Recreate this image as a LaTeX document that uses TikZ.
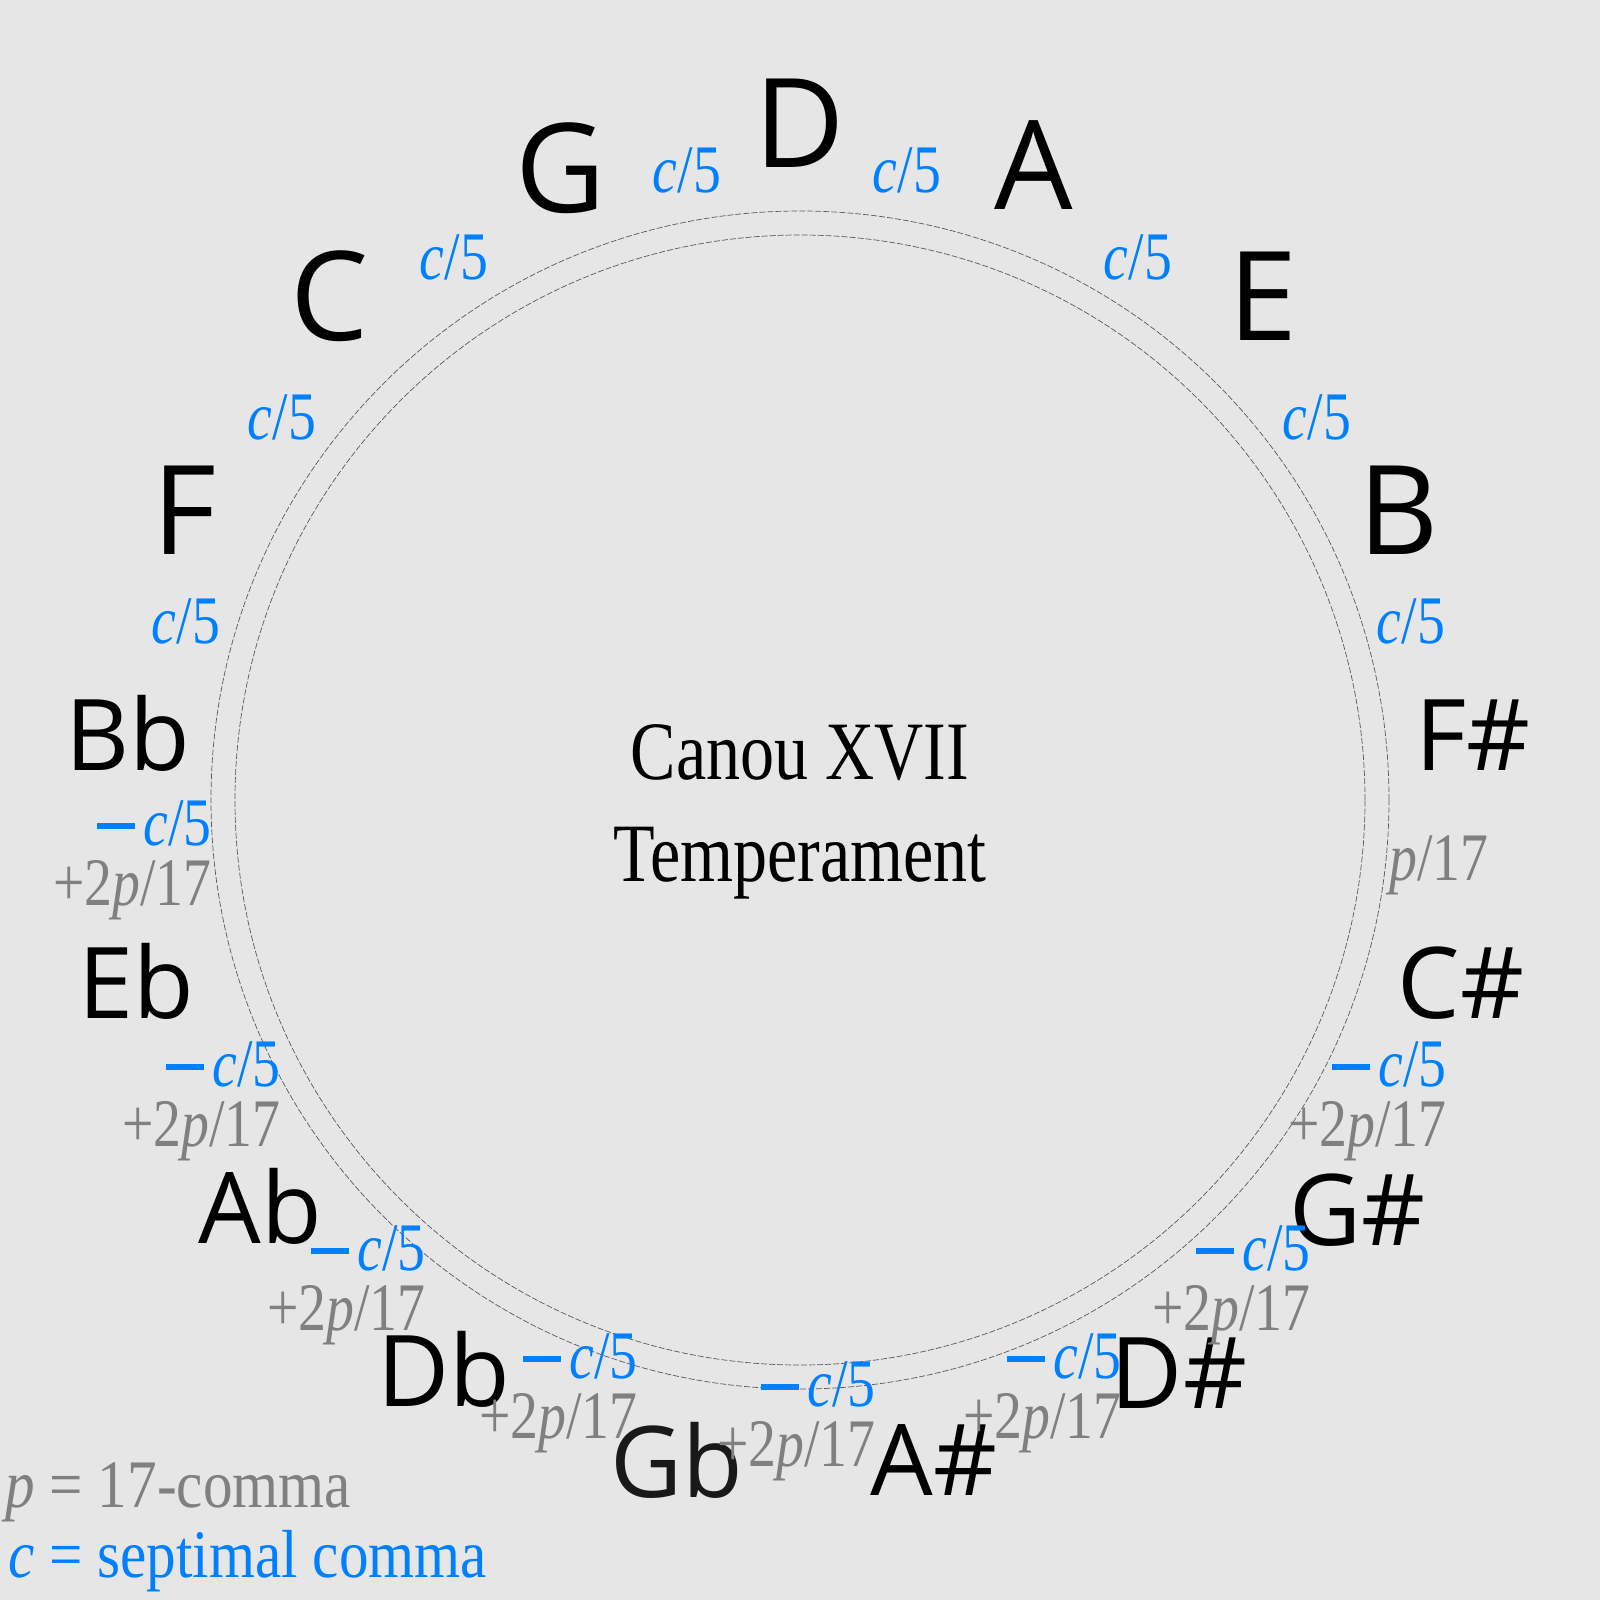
\documentclass[tikz,border=0pt]{standalone}
\usepackage{fontspec}
\setmainfont{Liberation Serif}[FakeStretch=0.82]
\newfontfamily\legfont{Liberation Serif}[FakeStretch=0.87]
\newfontfamily\notefont{Open Sans}
\definecolor{bg}{HTML}{E6E6E6}
\definecolor{cblue}{HTML}{0080FF}
\definecolor{pgray}{HTML}{808080}
\newcommand\cfive{\textit{c}/5}
\newcommand\pseventeen{\textit{p}/17}
\newcommand\mymin{\rule[0.24em]{0.56em}{0.085em}\hspace{0.12em}}
\begin{document}
\begin{tikzpicture}[x=0.5pt,y=-0.5pt,
  nat/.style={font=\notefont\fontsize{62}{62}\selectfont, inner sep=0pt, anchor=base},
  acc/.style={font=\notefont\fontsize{49.5}{49.5}\selectfont, inner sep=0pt, anchor=base},
  lab/.style={font=\fontsize{34}{34}\selectfont, inner sep=0pt, text=cblue, anchor=base},
  plab/.style={font=\fontsize{34}{34}\selectfont, inner sep=0pt, text=pgray, anchor=base},
  ttl/.style={font=\fontsize{41.5}{41.5}\selectfont, inner sep=0pt, anchor=base},
  ring/.style={draw=black!65, line width=0.35pt, dash pattern=on 3pt off 1pt}]
\fill[bg] (0,0) rectangle (1600,1600);
\useasboundingbox (0,0) rectangle (1600,1600);
\coordinate (O) at (800,800);
\draw[ring] (O) circle[radius=294.5pt];
\draw[ring] (O) circle[radius=282.5pt];
% notes
\node[nat] (D) at (800,168) {D};
\node[nat] (A) at (1034,209) {A};
\node[nat] (E) at (1263,340) {E};
\node[nat] (B) at (1399,554) {B};
\node[acc] (Fs) at (1473,770) {F\#};
\node[acc] (Cs) at (1461,1018) {C\#};
\node[acc] (Gs) at (1357,1245) {G\#};
\node[acc] (Ds) at (1179,1408) {D\#};
\node[acc] (As) at (934,1495) {A\#};
\node[acc, text=black!90] (Gb) at (677,1497) {Gb};
\node[acc] (Db) at (444,1406) {Db};
\node[acc] (Ab) at (260,1243) {Ab};
\node[acc] (Eb) at (136,1018) {Eb};
\node[acc] (Bb) at (128,770) {Bb};
\node[nat] (F) at (184,554) {F};
\node[nat] (C) at (330,340) {C};
\node[nat] (G) at (561,212) {G};
% intervals
\node[lab] (gd) at (687,192) {\cfive};
\node[lab] (da) at (907,192) {\cfive};
\node[lab] (ae) at (1138,279) {\cfive};
\node[lab] (cg) at (454,279) {\cfive};
\node[lab] (eb) at (1317,439) {\cfive};
\node[lab] (fc) at (282,439) {\cfive};
\node[lab] (bfs) at (1411,643) {\cfive};
\node[lab] (bbf) at (186,643) {\cfive};
\node[plab] (fscs) at (1439,880) {\pseventeen};
\foreach \n/\x/\y in {csgs/1447/1086, ebbb/212/845, abeb/281/1086, gsds/1311/1270, dbab/426/1270, dsas/1122/1378, gbdb/638/1378, asgb/876/1406}{
  \node[lab, anchor=base east] (\n-c) at (\x,\y) {\mymin\cfive};
  \node[plab, anchor=base east] (\n-p) at (\x,\y+60) {+2\pseventeen};
}
% title
\node[ttl] (t1) at (800,779) {Canou XVII};
\node[ttl] (t2) at (800,881) {Temperament};
% legend
\node[plab, anchor=base west, font=\legfont\fontsize{34}{34}\selectfont] (leg1) at (5,1507) {\textit{p} = 17-comma};
\node[lab, anchor=base west, font=\legfont\fontsize{34}{34}\selectfont] (leg2) at (8,1577) {\textit{c} = septimal comma};
\end{tikzpicture}
\end{document}
